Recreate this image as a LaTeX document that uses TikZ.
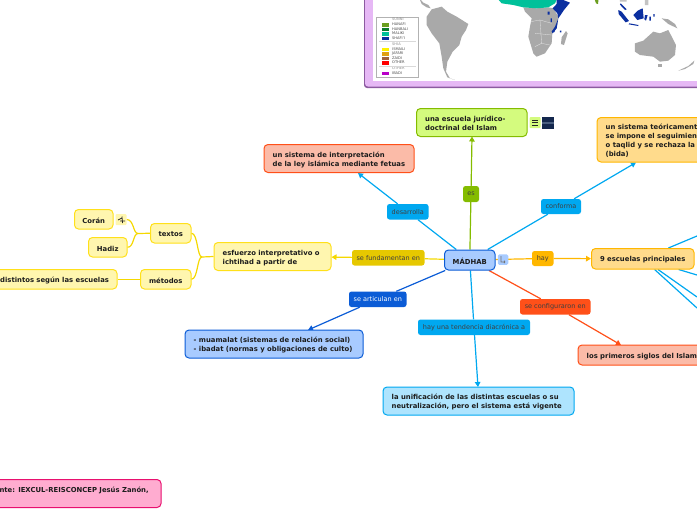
\documentclass[tikz,border=0pt]{standalone}
\usepackage{fontspec}
\setmainfont{DejaVu Sans}
\usetikzlibrary{arrows.meta,backgrounds,calc}
\definecolor{cY}{HTML}{FFE01A}\definecolor{fY}{HTML}{FFF6AF}\definecolor{cYl}{HTML}{F5D800}
\definecolor{cB}{HTML}{0B5CD6}\definecolor{fB}{HTML}{A8CBFF}
\definecolor{cC}{HTML}{00A8F0}\definecolor{fC}{HTML}{AEE4FE}
\definecolor{cG}{HTML}{84BC00}\definecolor{fG}{HTML}{D4FB7E}
\definecolor{cR}{HTML}{FF5019}\definecolor{fR}{HTML}{FBBBA8}
\definecolor{cO}{HTML}{FFB700}\definecolor{fO}{HTML}{FFDB8C}
\definecolor{cP}{HTML}{E8106F}\definecolor{fP}{HTML}{FFACD0}
\definecolor{cL}{HTML}{E6C800}\definecolor{cT}{HTML}{1C1C1C}
\definecolor{mapgrey}{HTML}{A9A9A9}\definecolor{mapteal}{HTML}{00C19A}\definecolor{mapblue}{HTML}{0B2FA0}
\definecolor{frameD}{HTML}{8C5AA0}\definecolor{frameF}{HTML}{E6B8F5}
\definecolor{s1}{HTML}{6B9E1F}\definecolor{s2}{HTML}{0B7A2E}\definecolor{s3}{HTML}{FFF200}
\definecolor{s4}{HTML}{E0A010}\definecolor{s5}{HTML}{A0603A}\definecolor{s6}{HTML}{FF0000}\definecolor{s7}{HTML}{B800C8}
\definecolor{thumbD}{HTML}{14284E}\definecolor{thumbL}{HTML}{4A5F80}
\tikzset{
  topic/.style={draw,rounded corners=4pt,line width=1pt,inner sep=0pt},
  topictext/.style={inner sep=0pt,text=cT,align=left,yshift=-1.2pt,font=\fontsize{6.85}{9}\selectfont\bfseries},
  tag/.style={rounded corners=2.5pt,inner sep=0pt,align=center,font=\fontsize{6.5}{8}\selectfont,text=black!75},
  link/.style={line width=1.2pt},
  tip/.style={link,-{Triangle[length=5pt,width=5.5pt]}},
  legtxt/.style={inner sep=0pt,anchor=west,text=black!70,font=\fontsize{3.6}{4}\selectfont},
  mapland/.style={fill=mapgrey,draw=none},
  mapsea/.style={fill=mapblue,draw=none}
}
% name, x1,y1,x2,y2, style, text : text starts 8.5 from the left edge
\newcommand\bx[7]{%
  \pgfmathsetmacro\bxw{#4-#2}\pgfmathsetmacro\bxh{#5-#3}%
  \node[topic,#6,minimum width=\bxw pt,minimum height=\bxh pt] (#1) at ({(#2+#4)/2},{(#3+#5)/2}) {};
  \node[topictext,anchor=west] (#1t) at ({#2+8.5},{(#3+#5)/2}) {#7};}
% same, text centred
\newcommand\bc[7]{%
  \pgfmathsetmacro\bxw{#4-#2}\pgfmathsetmacro\bxh{#5-#3}%
  \node[topic,#6,minimum width=\bxw pt,minimum height=\bxh pt] (#1) at ({(#2+#4)/2},{(#3+#5)/2}) {};
  \node[topictext] (#1t) at (#1.center) {#7};}
\newcommand\lb[7]{%
  \pgfmathsetmacro\bxw{#4-#2}\pgfmathsetmacro\bxh{#5-#3}%
  \node[tag,#6,minimum width=\bxw pt,minimum height=\bxh pt] (#1) at ({(#2+#4)/2},{(#3+#5)/2}) {#7};}
\begin{document}
\begin{tikzpicture}[x=1pt,y=-1pt]
\useasboundingbox (0,0) rectangle (697,520);
\clip (0,0) rectangle (697,520);
% ---- map frame
\fill[rounded corners=3pt,fill=frameD] (364,-20) rectangle (730,88);
\fill[rounded corners=3pt,fill=frameF] (365,-20) rectangle (730,86.5);
\fill[fill=white] (372.5,-20) rectangle (730,81);
\begin{scope}[x=0.33333pt,y=-0.33333pt,shift={(1080,0)}]
  % South America
  \fill[mapland] (200,50)--(215,28)--(245,20)--(262,35)--(290,50)--(325,72)--(318,90)--(305,110)--(298,135)--(278,155)--(262,185)--(258,215)--(270,235)--(285,240)--(262,232)--(250,205)--(245,170)--(238,130)--(215,100)--(200,75)--cycle;
  \fill[mapland] (178,-5)--(190,8)--(205,15)--(212,25)--(200,22)--(185,12)--cycle;
  % Africa
  \fill[mapland] (490,22)--(530,25)--(565,22)--(580,25)--(595,50)--(590,85)--(577,100)--(575,130)--(555,160)--(530,170)--(520,160)--(505,110)--(510,80)--(515,55)--(495,35)--cycle;
  \draw[white!70!mapgrey,line width=.3pt] (512,65)--(540,60)--(575,70) (525,100)--(575,105) (540,60)--(545,130)--(525,140) (545,130)--(570,135);
  \fill[mapteal] (412,-5)--(425,10)--(460,15)--(490,22)--(530,25)--(565,22)--(585,10)--(592,-5)--cycle;
  \fill[mapsea] (590,-5)--(610,0)--(630,8)--(612,30)--(595,55)--(592,40)--(578,25)--(590,12)--cycle;
  \fill[mapsea] (595,55)--(590,85)--(578,100)--(575,95)--(585,80)--cycle;
  \fill[mapsea] (563,35) rectangle (569,44) (572,55) rectangle (576,66) (600,92) rectangle (604,97) (578,90) rectangle (584,96);
  \fill[mapland] (618,93)--(623,100)--(612,135)--(603,132)--(605,112)--cycle;
  % Asia / Oceania
  \fill[s1] (703,-5)--(716,-5)--(714,12)--(708,10)--cycle;
  \fill[mapsea] (820,45)--(833,32)--(848,25)--(851,55)--(832,60)--cycle;
  \fill[mapsea] (775,30)--(785,35)--(807,63)--(797,67)--(776,42)--cycle;
  \fill[mapsea] (808,70)--(835,75)--(835,78)--(806,73)--cycle;
  \fill[mapsea] (782,10)--(800,28)--(795,30)--(780,14)--cycle;
  \fill[mapsea] (855,45)--(863,45)--(858,62)--(853,58)--cycle;
  \fill[mapsea] (880,42) rectangle (884,50) (868,50) rectangle (873,62);
  \fill[mapland] (825,130)--(850,122)--(880,95)--(900,100)--(925,90)--(948,135)--(945,165)--(925,182)--(900,185)--(880,170)--(840,165)--(825,155)--cycle;
  \fill[mapland] (905,55)--(925,58)--(945,72)--(952,85)--(925,72)--cycle;
  \fill[mapland] (955,212)--(985,198)--(1003,182)--(1000,192)--(975,207)--cycle;
  \fill[mapland] (895,193) rectangle (905,200);
  \fill[mapgrey!70!white] (780,-5) rectangle (800,5) (855,0) rectangle (865,15);
\end{scope}
% ---- legend
\draw[fill=white,draw=black!30,line width=.4pt] (376,17) rectangle (418,77);
\node[legtxt,text=black!45] (l0) at (392,19.5) {SUNNI};
\node[legtxt] (l1) at (392,24.5) {HANAFI};
\node[legtxt] (l2) at (392,29) {HANBALI};
\node[legtxt] (l3) at (392,33.5) {MALIKI};
\node[legtxt] (l4) at (392,38) {SHAFI'I};
\node[legtxt,text=black!45] (l5) at (392,44) {SHIA};
\node[legtxt] (l6) at (392,49) {ISMAILI};
\node[legtxt] (l7) at (392,53.5) {JAFARI};
\node[legtxt] (l8) at (392,58) {ZAIDI};
\node[legtxt] (l9) at (392,62.5) {OTHER};
\node[legtxt,text=black!45] (l10) at (392,68) {OTHER};
\node[legtxt] (l11) at (392,73) {IBADI};
\draw[black!15,line width=.4pt] (379,41.2)--(416,41.2) (379,66)--(416,66);
\fill[s1] (382,23) rectangle (389,26.5);
\fill[s2] (382,27.5) rectangle (389,31);
\fill[mapteal] (382,32) rectangle (389,35.5);
\fill[mapblue] (382,36.5) rectangle (389,40);
\fill[s3] (382,47.5) rectangle (389,51);
\fill[s4] (382,52) rectangle (389,55.5);
\fill[s5] (382,56.5) rectangle (389,60);
\fill[s6] (382,61) rectangle (389,64.5);
\fill[s7] (382,71.5) rectangle (389,75);
% ---- topics
\bc{madhab}{444.5}{250}{495}{270}{draw=cB,fill=fB}{MÁDHAB}
\bx{escuela}{416.5}{108.5}{527}{136.5}{draw=cG,fill=fG}{una escuela jurídico-\\doctrinal del Islam}
\bx{interp}{264}{144.5}{414}{172.5}{draw=cR,fill=fR}{un sistema de interpretación\\de la ley islámica mediante fetuas}
\bx{sistema}{597}{117.5}{800}{162}{draw=cO,fill=fO}{un sistema teóricamente\\se impone el seguimiento\\o taqlid y se rechaza la\\(bida)}
\bc{nueve}{591.5}{248.5}{694}{269}{draw=cO,fill=fO}{9 escuelas principales}
\bx{primeros}{578}{345}{730}{365}{draw=cR,fill=fR}{los primeros siglos del Islam}
\bx{unif}{383}{387}{574}{415}{draw=cC,fill=fC}{la unificación de las distintas escuelas o su\\neutralización, pero el sistema está vigente}
\bx{muam}{185}{330}{363}{358}{draw=cB,fill=fB}{- muamalat (sistemas de relación social)\\- ibadat (normas y obligaciones de culto)}
\bx{esf}{214}{242.5}{331}{270.5}{draw=cY,fill=fY}{esfuerzo interpretativo o\\ichtihad a partir de}
\bc{textos}{150.5}{223.5}{191}{243}{draw=cY,fill=fY}{textos}
\bc{metodos}{140.5}{269.5}{191}{289}{draw=cY,fill=fY}{métodos}
\bc{coran}{74.5}{209.5}{113}{229}{draw=cY,fill=fY}{Corán}
\bc{hadiz}{88.5}{237.5}{127}{257}{draw=cY,fill=fY}{Hadiz}
\bx{dist}{-8.5}{269.5}{117}{289}{draw=cY,fill=fY}{distintos según las escuelas}
\bx{fuente}{-23}{479.5}{161}{507.5}{draw=cP,fill=fP}{Fuente: IEXCUL-REISCONCEP Jesús Zanón,\\\mbox{}}
% ---- connector labels
\lb{les}{463}{186}{479}{202}{fill=cG}{es}
\lb{ldes}{387}{204}{428.5}{219.5}{fill=cC}{desarrolla}
\lb{lcon}{541}{199}{581}{214}{fill=cC}{conforma}
\lb{lfun}{352}{250}{424.5}{265.5}{fill=cL}{se fundamentan en}
\lb{lhay}{532}{251}{553.5}{266}{fill=cO}{hay}
\lb{lart}{349}{291.5}{406.5}{307}{fill=cB,text=white}{se articulan en}
\lb{lten}{418}{319.5}{530}{335}{fill=cC}{hay una tendencia diacrónica a}
\lb{lcfg}{520}{299}{590.5}{314.5}{fill=cR}{se configuraron en}
% ---- attachment icons
\node[fill=fB,rounded corners=1.5pt,minimum size=10.5pt,inner sep=0pt] (imad) at (503,259.5) {};
\draw[black!55,line width=.6pt] (501,256)--(501,262)--(505,262) (504,260.5)--(505,262)--(504,263.2);
\node[fill=fY,rounded corners=1pt,minimum size=11pt,inner sep=0pt] (icor) at (121,219.5) {};
\draw[black!85,line width=.7pt] (118,220)--(122,218) (122,216.5)--(122.5,223) (120,221)--(125,221);
\node[fill=fG,rounded corners=1pt,minimum size=11pt,inner sep=0pt] (iesc) at (535,122.5) {};
\draw[black!85,line width=.6pt] (532,120)--(538,120) (532,122.5)--(538,122.5) (532,125)--(538,125);
\node[fill=thumbD,minimum size=12pt,inner sep=0pt] (ithumb) at (548,122.5) {};
\fill[thumbL] (542,121.5) rectangle (554,123.5);
% ---- connectors
\begin{scope}[on background layer]
  \coordinate (tdes) at (358,173);
  \coordinate (tcon) at (636,162.5);
  \coordinate (tes) at (472,136.5);
  \coordinate (tart) at (308,330);
  \coordinate (tten) at (478,387);
  \coordinate (tcfg) at (621,345);
  \draw[link,cG] (madhab) -- (les);
  \draw[tip,cG] (les) -- (tes);
  \draw[link,cC] (madhab) -- (ldes);
  \draw[tip,cC] (ldes) -- (tdes);
  \draw[link,cC] (madhab) -- (lcon);
  \draw[tip,cC] (lcon) -- (tcon);
  \draw[link,cYl] (madhab) -- (lfun);
  \draw[tip,cYl] (lfun) -- (esf);
  \draw[link,cO] (madhab) -- (lhay);
  \draw[tip,cO] (lhay) -- (nueve);
  \draw[link,cB] (madhab) -- (lart);
  \draw[tip,cB] (lart) -- (tart);
  \draw[link,cC] (madhab) -- (lten);
  \draw[tip,cC] (lten) -- (tten);
  \draw[link,cR] (madhab) -- (lcfg);
  \draw[tip,cR] (lcfg) -- (tcfg);
  \coordinate (e1) at (697,236);
  \coordinate (e2) at (697,275);
  \coordinate (e3) at (697,297);
  \coordinate (e4) at (697,308);
  \draw[link,cC] (nueve) -- (e1);
  \draw[link,cC] (nueve) -- (e2);
  \draw[link,cC] (nueve) -- (e3);
  \draw[link,cC] (nueve) -- (e4);
  % yellow tree
  \coordinate (j1) at (202,257);
  \coordinate (j2) at (138,233.5);
  \draw[link,cYl] (esf.west) -- (j1);
  \draw[link,cYl] (j1) .. controls (197,257) and (198,233.5) .. (textos.east);
  \draw[link,cYl] (j1) .. controls (197,257) and (198,279) .. (metodos.east);
  \draw[link,cYl] (textos.west) -- (j2);
  \draw[link,cYl] (j2) .. controls (133,233.5) and (134,219.5) .. (icor.east);
  \draw[link,cYl] (j2) .. controls (133,233.5) and (134,247.5) .. (hadiz.east);
  \draw[link,cYl] (metodos.west) -- (dist.east);
\end{scope}
\end{tikzpicture}
\end{document}
